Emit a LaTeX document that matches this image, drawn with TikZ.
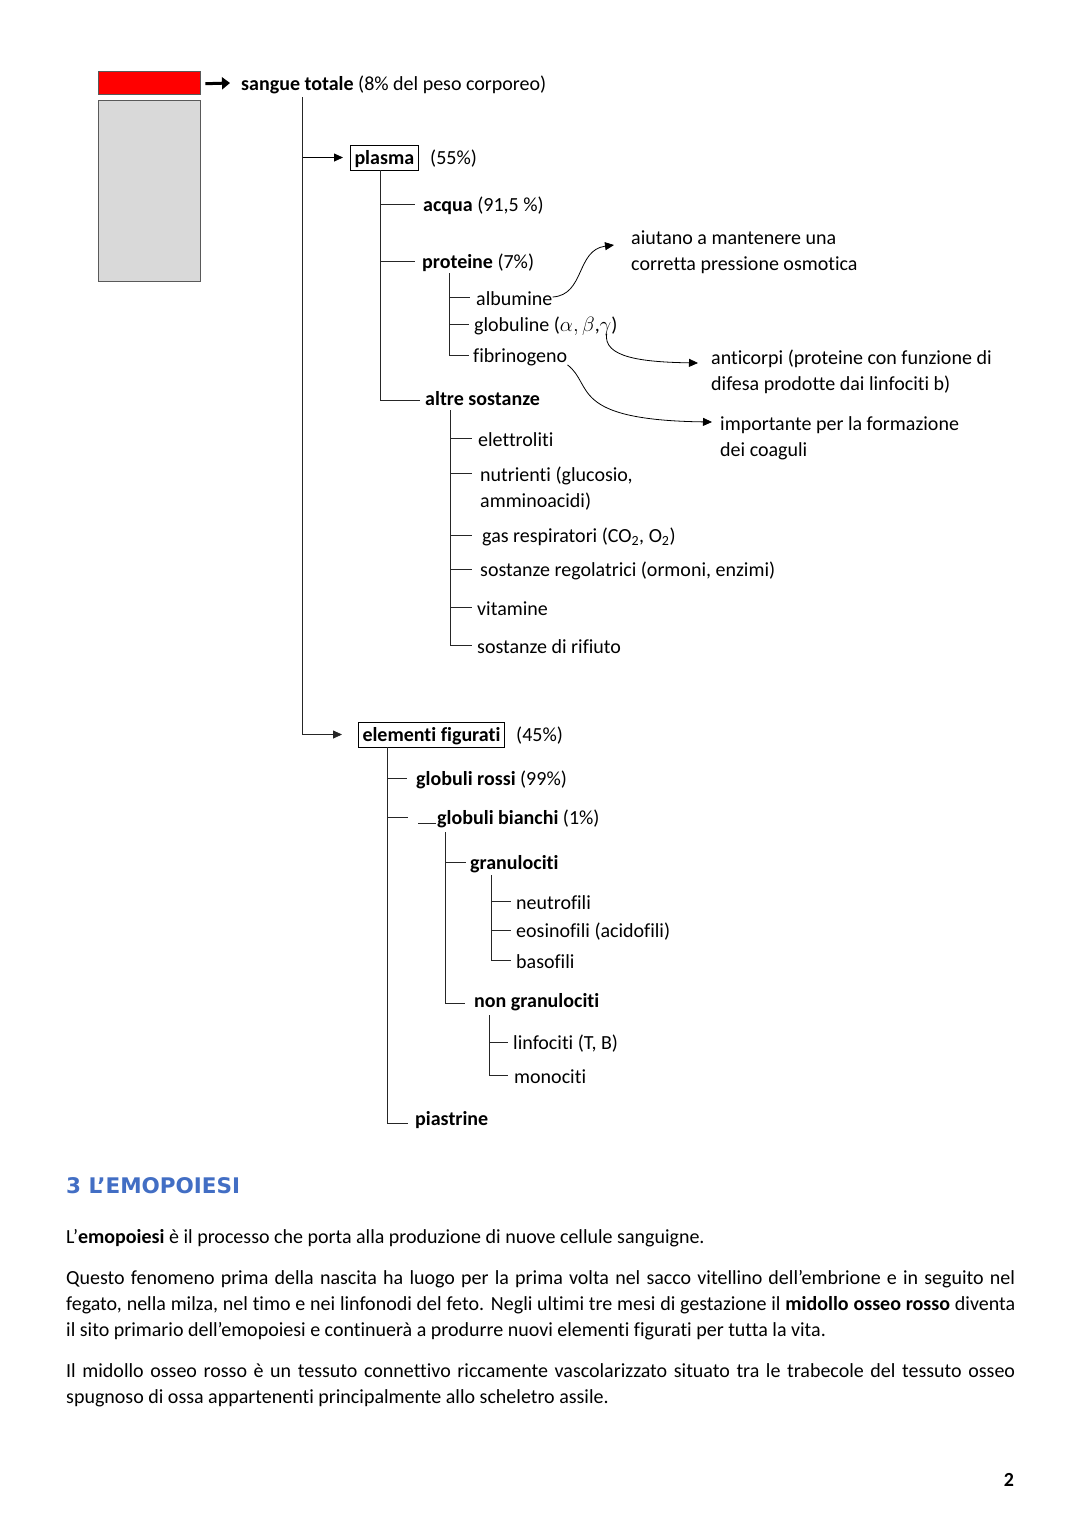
\documentclass[tikz,border=0pt]{standalone}
\usepackage{fontspec}
\setmainfont[Ligatures=NoCommon]{Carlito}
\newfontfamily\headfont{DejaVu Sans}
\usetikzlibrary{arrows.meta,calc}
\definecolor{headblue}{RGB}{66,110,196}
\newcommand\fs{\fontsize{20}{26}\selectfont}
\begin{document}
\begin{tikzpicture}[x=1pt,y=-1pt,
  lbl/.style={anchor=west, inner sep=0pt, font=\fs, yshift=-2pt},
  boxed/.style={draw, line width=1pt, font=\fs\bfseries, inner xsep=4pt, inner ysep=0pt, minimum height=25pt, anchor=west, text depth=0.5pt},
  tree/.style={line width=0.8pt, draw=black!85},
  arr/.style={line width=0.8pt, -{Triangle[length=9pt,width=8pt]}},
  callout/.style={anchor=west, align=left, inner sep=0pt, font=\fs, yshift=-2pt},
  para/.style={anchor=north west, text width=949pt, align=justify, inner sep=0pt, font=\fs, yshift=-3pt}
]
\useasboundingbox[fill=white] (0,0) rectangle (1080,1527);

% colour bars
\node[draw=black!65, fill=red, minimum width=102pt, minimum height=23pt, inner sep=0pt, anchor=north west] (redbar) at (98,71) {};
\node[draw=black!65, fill=black!15, minimum width=102pt, minimum height=181pt, inner sep=0pt, anchor=north west] (graybar) at (98,100) {};

\node[lbl] (sangue) at (241,83) {\textbf{sangue totale} (8\% del peso corporeo)};
\draw[line width=3pt, -{Triangle[length=8pt,width=12pt]}] ([xshift=5pt,yshift=-1pt]redbar.east) -- ([xshift=-11pt,yshift=2pt]sangue.west);

% main trunk
\coordinate (t0) at (302,97);
\node[boxed] (plasma) at (350,157.5) {plasma};
\node[lbl] (p55) at (430,157) {(55\%)};
\draw[arr] (t0 |- plasma.west) -- ([xshift=-7pt]plasma.west);

\node[boxed] (elem) at (358,734.5) {elementi figurati};
\node[lbl] (e45) at (516,734) {(45\%)};
\draw[tree, arr] (t0) |- ([xshift=-16pt]elem.west);

% plasma subtree
\coordinate (pl) at (380,170);
\node[lbl] (acqua) at (423,204) {\textbf{acqua} (91,5 \%)};
\node[lbl] (prot) at (422,261) {\textbf{proteine} (7\%)};
\node[lbl] (altre) at (425,397) {\textbf{altre sostanze}};
\draw[tree] (pl) |- ([xshift=-8pt,yshift=2pt]acqua.west);
\draw[tree] (pl) |- ([xshift=-7pt,yshift=2pt]prot.west);
\draw[tree] (pl) |- ([xshift=-5pt,yshift=-1pt]altre.west);

% proteine subtree
\coordinate (pr) at (449,273);
\node[lbl] (alb) at (476,297) {albumine};
\node[lbl] (glob) at (474,324) {globuline ($\alpha,\beta$,$\gamma$)};
\node[lbl] (fibr) at (473,355) {fibrinogeno};
\draw[tree] (pr) |- ([xshift=-6pt,yshift=2pt]alb.west);
\draw[tree] (pr) |- ([xshift=-5pt,yshift=2pt]glob.west);
\draw[tree] (pr) |- ([xshift=-4pt,yshift=2pt]fibr.west);

% callouts
\node[callout] (aiut) at (631,250) {aiutano a mantenere una\\corretta pressione osmotica};
\node[callout] (antic) at (711,370) {anticorpi (proteine con funzione di\\difesa prodotte dai linfociti b)};
\node[callout] (imp) at (720,436.5) {importante per la formazione\\dei coaguli};
\draw[arr] ([yshift=2pt]alb.east) .. controls (585,295) and (576,250) .. ([xshift=-17pt,yshift=7pt]aiut.west);
\draw[arr] ([xshift=-11pt,yshift=2pt]glob.south east) .. controls (603,357) and (640,362) .. ([xshift=-13pt,yshift=9pt]antic.west);
\draw[arr] ([yshift=1pt]fibr.south east) .. controls (594,385) and (568,420) .. ([xshift=-8pt,yshift=16.5pt]imp.west);

% altre sostanze subtree
\coordinate (al) at (450,410);
\node[lbl] (elet) at (478,438) {elettroliti};
\node[lbl, align=left] (nutr) at (480,486.5) {nutrienti (glucosio,\\amminoacidi)};
\node[lbl] (gas) at (482,535) {gas respiratori (CO\textsubscript{2}, O\textsubscript{2})};
\node[lbl] (reg) at (480,569) {sostanze regolatrici (ormoni, enzimi)};
\node[lbl] (vit) at (477,607) {vitamine};
\node[lbl] (rif) at (477,645) {sostanze di rifiuto};
\draw[tree] (al) |- ([xshift=-6pt,yshift=2pt]elet.west);
\draw[tree] (al) |- ([xshift=-8pt,yshift=15.5pt]nutr.west);
\draw[tree] (al) |- ([xshift=-10pt,yshift=2pt]gas.west);
\draw[tree] (al) |- ([xshift=-8pt,yshift=2pt]reg.west);
\draw[tree] (al) |- ([xshift=-5pt,yshift=2pt]vit.west);
\draw[tree] (al) |- ([xshift=-5pt,yshift=2pt]rif.west);

% elementi figurati subtree
\coordinate (el) at (387,747);
\node[lbl] (gr) at (416,778) {\textbf{globuli rossi} (99\%)};
\node[lbl] (gbi) at (437,817) {\textbf{globuli bianchi} (1\%)};
\node[lbl] (pias) at (415,1118) {\textbf{piastrine}};
\draw[tree] (el) |- ([xshift=-9pt,yshift=2pt]gr.west);
\draw[tree] (el) |- ([xshift=-29pt,yshift=2pt]gbi.west);
\draw[tree] ([xshift=-19pt,yshift=-4pt]gbi.west) -- ([xshift=-1pt,yshift=-4pt]gbi.west);
\draw[tree] (el) |- ([xshift=-7pt,yshift=-3pt]pias.west);

% globuli bianchi subtree
\coordinate (gbt) at (445,832);
\node[lbl] (gran) at (470,862) {\textbf{granulociti}};
\node[lbl] (nongran) at (474,1000) {\textbf{non granulociti}};
\draw[tree] (gbt) |- ([xshift=-4pt,yshift=2pt]gran.west);
\draw[tree] (gbt) |- ([xshift=-9pt,yshift=-1pt]nongran.west);

\coordinate (grt) at (491,875);
\node[lbl] (neu) at (516,901) {neutrofili};
\node[lbl] (eos) at (516,930) {eosinofili (acidofili)};
\node[lbl] (bas) at (516,960) {basofili};
\draw[tree] (grt) |- ([xshift=-5pt,yshift=2pt]neu.west);
\draw[tree] (grt) |- ([xshift=-5pt,yshift=2pt]eos.west);
\draw[tree] (grt) |- ([xshift=-5pt,yshift=2pt]bas.west);

\coordinate (ngt) at (489,1015);
\node[lbl] (linf) at (513,1042) {linfociti (T, B)};
\node[lbl] (mono) at (514,1075) {monociti};
\draw[tree] (ngt) |- ([xshift=-5pt,yshift=2pt]linf.west);
\draw[tree] (ngt) |- ([xshift=-6pt,yshift=2pt]mono.west);

% heading and text
\node[anchor=west, inner sep=0pt, font=\headfont\fontsize{21.5}{26}\selectfont\bfseries, text=headblue] (head) at (66,1186) {3 L’EMOPOIESI};
\node[para] (par1) at (66,1226) {L’\textbf{emopoiesi} è il processo che porta alla produzione di nuove cellule sanguigne.};
\node[para] (par2) at (66,1267) {Questo fenomeno prima della nascita ha luogo per la prima volta nel sacco vitellino dell’embrione e in seguito nel\linebreak fegato, nella milza, nel timo e nei linfonodi del feto. Negli ultimi tre mesi di gestazione il \textbf{midollo osseo rosso} diventa\linebreak il sito primario dell’emopoiesi e continuerà a produrre nuovi elementi figurati per tutta la vita.};
\node[para] (par3) at (66,1360) {Il midollo osseo rosso è un tessuto connettivo riccamente vascolarizzato situato tra le trabecole del tessuto osseo\linebreak spugnoso di ossa appartenenti principalmente allo scheletro assile.};

\node[font=\fs\bfseries, inner sep=0pt] (pn) at (1009,1480) {2};
\end{tikzpicture}
\end{document}
